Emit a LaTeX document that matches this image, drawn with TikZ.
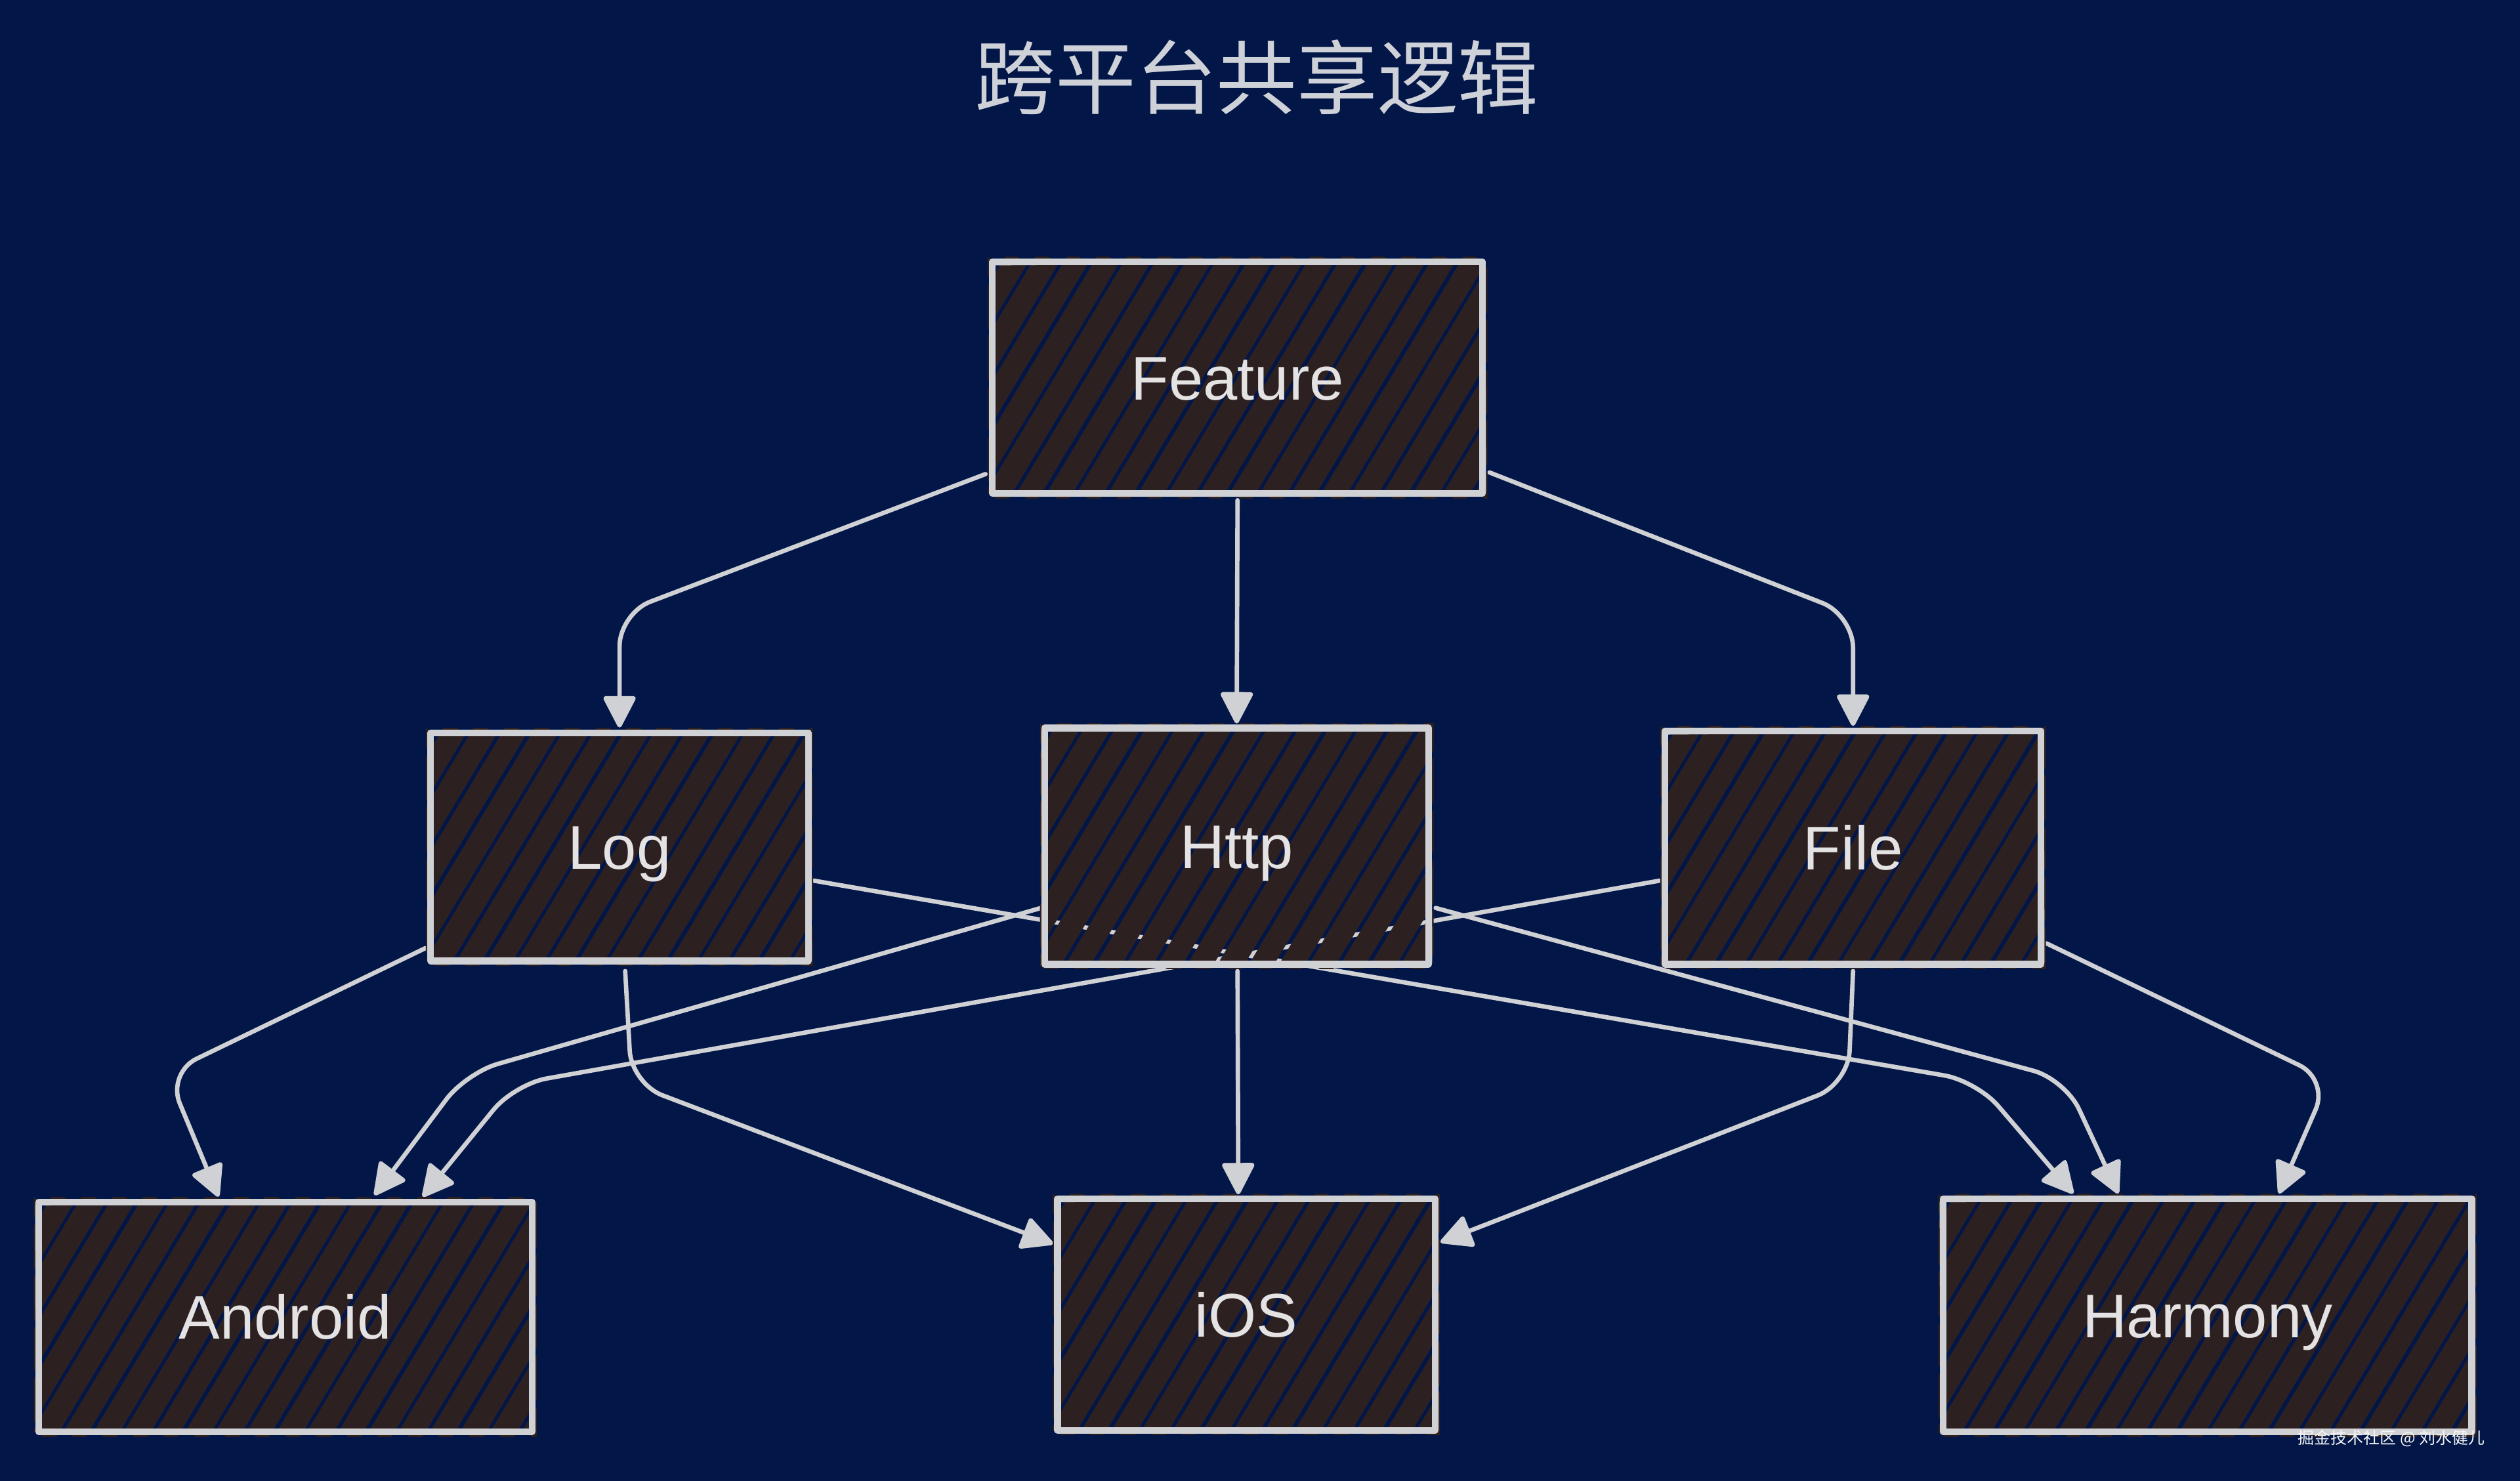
\documentclass[tikz,border=0pt]{standalone}
\usepackage{fontspec}
\setmainfont{Liberation Sans}
\newfontfamily\cjk{Noto Sans CJK SC}
\usetikzlibrary{arrows.meta,calc}
\definecolor{bgc}{RGB}{2,22,72}
\definecolor{fillc}{RGB}{45,32,32}
\definecolor{strokec}{RGB}{208,209,213}
\definecolor{txtc}{RGB}{228,226,226}
\definecolor{titlec}{RGB}{206,209,216}
\pgfdeclarelayer{bg}\pgfdeclarelayer{conn}\pgfdeclarelayer{boxes}
\pgfsetlayers{bg,conn,boxes,main}
\def\pu{0.02449cm}
\tikzset{
 lbl/.style={inner sep=0pt, text=txtc, font=\fontsize{26.75}{30}\selectfont, text height=19.2pt, text depth=0pt},
 conn/.style={draw=strokec, line width=1.9pt, rounded corners=0.5cm, line cap=round, line join=round,
   -{Triangle[length=0.52cm,width=0.52cm,round]}},
 hach/.style={draw=fillc},
 border/.style={draw=strokec, line width=2.9pt, line join=round},
 border2/.style={draw=strokec, line width=1.3pt, line cap=round},
}
\newcommand\sketchbox[4]{%
 \begin{pgfonlayer}{boxes}
 \begin{scope}
 \clip (#1-3,#2-3) rectangle (#3+3,#4+3);
 \pgfmathsetmacro\hachH{#4-#2+6}
 \pgfmathsetmacro\hachD{\hachH*0.6}
 \pgfmathtruncatemacro\hachN{(#3-#1+\hachD)/19+2}
 \foreach \i in {0,...,\hachN}{
   \pgfmathsetmacro\hachX{#1-\hachD-3+19*\i}
   \pgfmathsetmacro\hachW{0.33+0.012*mod(\i,3)}
   \draw[hach, line width=\hachW cm] (\hachX,#4+3) -- (\hachX+\hachD,#2-3);
 }
 \end{scope}
 \draw[border] (#1,#2) rectangle (#3,#4);
 \draw[border2] (#1+1.5,#2+1.2) -- (#3-1,#2-0.8) (#3+0.8,#2+1) -- (#3+1.2,#4-1)
   (#1-0.8,#4-1) -- (#1-1.2,#2+2);
 \end{pgfonlayer}
}
\begin{document}
\begin{tikzpicture}[x=\pu,y=-\pu]
\begin{pgfonlayer}{bg}
\fill[bgc] (0,0) rectangle (1568,921.6);
\end{pgfonlayer}
\useasboundingbox (0,0) rectangle (1568,921.6);

% title
\node[text=titlec, font=\cjk\fontsize{34.9}{40}\selectfont] (title) at (782,48) {跨平台共享逻辑};

% nodes
\node[lbl, minimum width={305*\pu}, minimum height={144*\pu}] (Feature) at (770,235) {Feature};
\node[lbl, minimum width={235*\pu}, minimum height={142*\pu}] (Log) at (385.5,527) {Log};
\node[lbl, minimum width={239*\pu}, minimum height={147*\pu}] (Http) at (769.5,526.5) {Http};
\node[lbl, minimum width={234*\pu}, minimum height={145*\pu}] (File) at (1153,527.5) {File};
\node[lbl, minimum width={307*\pu}, minimum height={143*\pu}] (Android) at (177.5,819.5) {Android};
\node[lbl, minimum width={235*\pu}, minimum height={144*\pu}] (iOS) at (775.5,818) {iOS};
\node[lbl, minimum width={329*\pu}, minimum height={145*\pu}] (Harmony) at (1373.5,818.5) {Harmony};

\sketchbox{617.5}{163}{922.5}{307}
\sketchbox{268}{456}{503}{598}
\sketchbox{650}{453}{889}{600}
\sketchbox{1036}{455}{1270}{600}
\sketchbox{24}{748}{331}{891}
\sketchbox{658}{746}{893}{890}
\sketchbox{1209}{746}{1538}{891}

% connectors
\begin{pgfonlayer}{conn}
\draw[conn] ($(Feature.west)+(-4,60)$) -- ($(Log.north)+(0,-74)$) -- ($(Log.north)+(0,-3)$);
\draw[conn] ($(Feature.south)+(0,4)$) -- ($(Http.north)+(0,-2.5)$);
\draw[conn] ($(Feature.east)+(4,59)$) -- ($(File.north)+(0,-72)$) -- ($(File.north)+(0,-3)$);

\draw[conn] ($(Log.west)+(-3,63)$) -- ($(Android.north)+(-73.5,-80)$) -- ($(Android.north)+(-41.5,-3)$);
\draw[conn] ($(Log.south)+(3.5,6)$) -- ($(Log.south)+(7.5,76)$) -- ($(iOS.west)+(-2.5,-44)$);
\draw[conn] ($(Log.east)+(3,21)$) -- ($(Harmony.north)+(-143.5,-73)$) -- ($(Harmony.north)+(-83.5,-3)$);

\draw[conn] ($(Http.west)+(-2,38.5)$) -- ($(Android.north)+(112.5,-80)$) -- ($(Android.north)+(55.5,-4)$);
\draw[conn] ($(Http.south)+(0.5,4)$) -- ($(iOS.north)+(-5,-2.5)$);
\draw[conn] ($(Http.east)+(4,38.5)$) -- ($(Harmony.north)+(-88.5,-74)$) -- ($(Harmony.north)+(-55.5,-3)$);

\draw[conn] ($(File.west)+(-3,20.5)$) -- ($(Android.north)+(142.5,-73)$) -- ($(Android.north)+(85.5,-3)$);
\draw[conn] ($(File.south)+(0,4)$) -- ($(File.south)+(-3,74)$) -- ($(iOS.east)+(3,-45)$);
\draw[conn] ($(File.east)+(3,59.5)$) -- ($(Harmony.north)+(75.5,-74)$) -- ($(Harmony.north)+(44.5,-3)$);
\end{pgfonlayer}

% watermark
\node[font=\cjk\fontsize{7.1}{8}\selectfont, text=white!92!gray] (wm) at (1488,895) {掘金技术社区 @ 刘水健儿};
\end{tikzpicture}
\end{document}
